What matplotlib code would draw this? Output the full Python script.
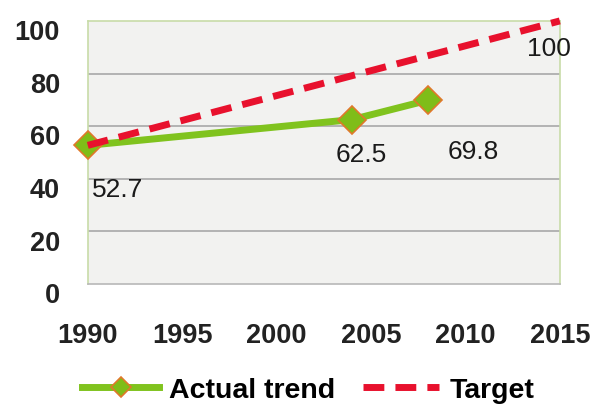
import matplotlib
matplotlib.use("Agg")
import matplotlib.pyplot as plt
import matplotlib.transforms as mtransforms
from matplotlib.lines import Line2D

years_actual = [1990, 2004, 2008]
values_actual = [52.7, 62.5, 69.8]
years_target = [1990, 2015]
values_target = [52.7, 100]
label_actual = ["52.7", "62.5", "69.8"]
label_target = "100"
xticks = [1990, 1995, 2000, 2005, 2010, 2015]
yticks = [0, 20, 40, 60, 80, 100]
legend_labels = ['Actual trend', 'Target']

plt.rcParams['font.family'] = ['Liberation Sans', 'DejaVu Sans']

fig = plt.figure(figsize=(5.93, 4.06), dpi=100)
ax = fig.add_axes([0.148, 0.298, 0.796, 0.648])
ax.set_facecolor('#f2f2f0')
ax.set_xlim(1990, 2015)
ax.set_ylim(0, 100)

for y in yticks[1:-1]:
    ax.axhline(y, color='#a8a8a8', lw=1.2, zorder=1)

green = '#80c31e'
red = '#e8112d'
ax.plot(years_actual, values_actual, color=green, lw=5, zorder=3,
        marker='D', markersize=14, markerfacecolor='#7fbd18',
        markeredgecolor='#e0782a', markeredgewidth=1.2, clip_on=False)
ax.plot(years_target, values_target, color=red, lw=5, dashes=(3, 1.6),
        zorder=4, clip_on=False)

# label offsets (data units) relative to each point
offsets = [(1.6, -16.6), (0.5, -13.1), (2.4, -19.2)]
for x, y, t, (dx, dy) in zip(years_actual, values_actual, label_actual, offsets):
    ax.text(x + dx, y + dy, t, ha='center', va='center', fontsize=19, color='#1a1a1a')
ax.text(years_target[-1] - 0.6, values_target[-1] - 10.3, label_target,
        ha='center', va='center', fontsize=19, color='#1a1a1a')

for s in ['top', 'left', 'right']:
    ax.spines[s].set_color('#c8dca8')
    ax.spines[s].set_linewidth(1.2)
ax.spines['bottom'].set_color('#b8b8b8')
ax.spines['bottom'].set_linewidth(1.2)

ax.set_xticks(xticks)
ax.set_xticklabels([str(v) for v in xticks], fontsize=19.5, fontweight='bold', color='#222222')
ax.set_yticks(yticks)
ax.set_yticklabels([str(v) for v in yticks], fontsize=19.5, fontweight='bold', color='#222222')
ax.tick_params(axis='x', length=0, pad=27)
ax.tick_params(axis='y', length=0, pad=20)
offset = mtransforms.ScaledTranslation(0, -6/72, fig.dpi_scale_trans)
for lbl in ax.get_yticklabels():
    lbl.set_transform(lbl.get_transform() + offset)

handles = [
    Line2D([], [], color=green, lw=5, marker='D', markersize=10,
           markerfacecolor='#7fbd18', markeredgecolor='#e0782a', markeredgewidth=1.2),
    Line2D([], [], color=red, lw=5, dashes=(3, 1.6)),
]
fig.legend(handles, legend_labels, loc='center', bbox_to_anchor=(0.52, 0.036),
           ncol=2, frameon=False, prop={'size': 20.5, 'weight': 'bold'},
           handlelength=2.7, columnspacing=0.95, handletextpad=0.35)

fig.savefig('out.png', dpi=100, facecolor='white')
